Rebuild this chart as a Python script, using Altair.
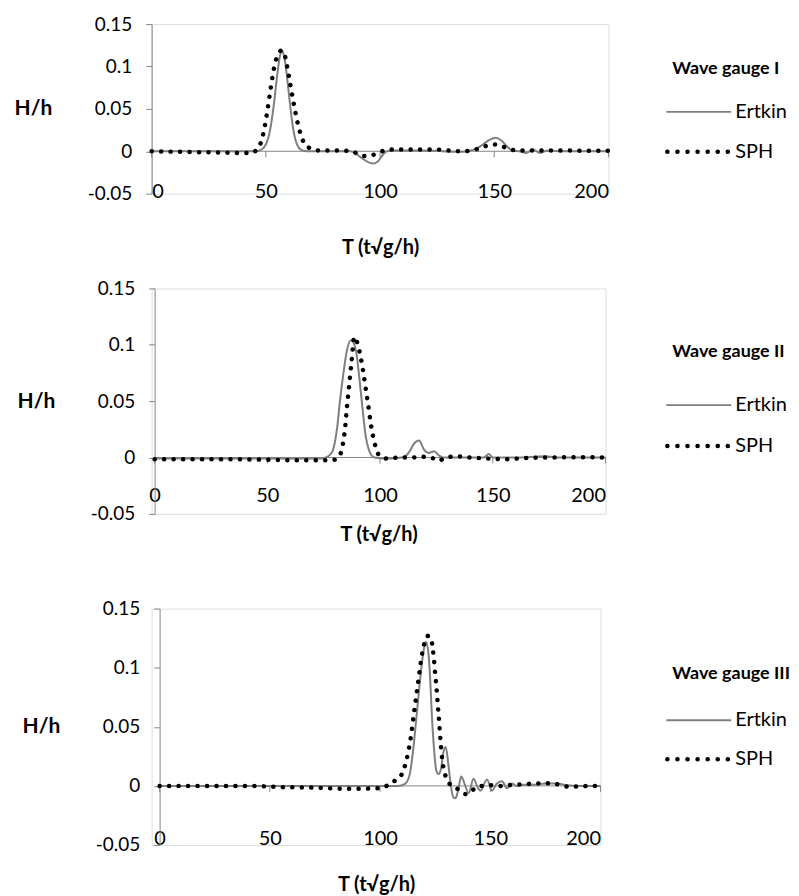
import altair as alt
import pandas as pd

SERIES = ["Ertkin", "SPH"]
X_TICKS = [0, 50, 100, 150, 200]
Y_TICKS = [-0.05, 0, 0.05, 0.1, 0.15]
X_TITLE = "T (t√g/h)"
Y_TITLE = "H/h"
GAUGES = ["Wave gauge I", "Wave gauge II", "Wave gauge III"]

# ---- Wave gauge I ----
t1_ertkin = [0, 20, 40, 45, 47, 49, 50.5, 52, 53.5, 55, 56, 57, 58, 59, 60, 61, 62, 63, 64.5, 66, 68,
             75, 87, 89, 92, 95, 97, 99, 101, 103, 106, 115, 125, 130, 137, 141, 144, 147, 150.5,
             153, 155.5, 158, 161, 164, 167, 170, 173, 180, 190, 200]
v1_ertkin = [0, 0, 0, 0, 0.0008, 0.004, 0.011, 0.027, 0.055, 0.09, 0.11, 0.119, 0.112, 0.094, 0.07,
             0.046, 0.026, 0.013, 0.004, 0.001, 0,
             0, 0, -0.002, -0.008, -0.013, -0.0145, -0.012, -0.005, 0, 0.001, 0.001, 0.0005, -0.0005,
             -0.0005, 0.002, 0.006, 0.012, 0.016,
             0.013, 0.006, 0.0005, 0, -0.002, 0.002, -0.002, 0.0005, 0, 0, 0]
t1_sph = [0, 10, 20, 30, 40, 44, 46, 47.5, 49, 50.5, 52, 53.5, 55, 57, 58.5, 60, 61.5, 63, 64.5, 66,
          68, 70, 73, 80, 88, 90, 93, 96, 99, 102, 105, 115, 125, 130, 135, 140, 143, 146, 150, 153,
          156, 160, 170, 180, 190, 200]
v1_sph = [0, -0.0005, -0.001, -0.0015, -0.002, -0.002, 0.002, 0.008, 0.022, 0.045, 0.072, 0.097,
          0.112, 0.119, 0.111, 0.09, 0.067, 0.045, 0.027, 0.014, 0.006, 0.003, 0.001, 0.001, 0,
          -0.003, -0.0055, -0.005, -0.002, 0.001, 0.002, 0.002, 0.002, 0.001, 0, 0.001, 0.003, 0.006,
          0.008, 0.0065, 0.003, 0.001, 0.001, 0.001, 0.0005, 0.0005]

# ---- Wave gauge II ----
t2_ertkin = [0, 40, 74, 76, 78, 79, 80, 81, 82.2, 83.7, 85.3, 87.1, 88.2, 89.3, 90.8, 92.3, 93.7, 95,
             96.2, 97.5, 102, 108, 111, 113, 115, 117.3, 119.5, 121.5, 124, 126, 128, 140, 146,
             148.3, 150, 160, 173, 180, 200]
v2_ertkin = [-0.001, -0.001, -0.001, 0, 0.003, 0.006, 0.014, 0.027, 0.05, 0.074, 0.095, 0.104, 0.102,
             0.095, 0.071, 0.042, 0.018, 0.007, 0.002, 0, -0.001, -0.0005, 0.001, 0.005, 0.012, 0.015,
             0.007, 0.004, 0.0055, 0.002, 0, 0, 0, 0.003, 0, 0, 0.001, 0, 0]
t2_sph = [0, 30, 50, 65, 78, 80.5, 82.4, 83.5, 84.4, 85.2, 86.2, 87.4, 88.6, 90.3, 91.5, 92.7, 93.6,
          94.5, 95.9, 96.8, 97.7, 99.2, 101, 103, 108, 115, 118, 121, 124, 126, 129, 135, 140, 148,
          155, 165, 175, 185, 200]
v2_sph = [-0.0015, -0.0015, -0.002, -0.0025, -0.0025, -0.0015, 0.003, 0.012, 0.024, 0.042, 0.062,
          0.086, 0.107, 0.099, 0.088, 0.074, 0.062, 0.05, 0.03, 0.02, 0.012, 0.003, 0, -0.001, 0, 0,
          0.001, 0, -0.001, -0.003, 0, 0.001, 0, -0.001, -0.0015, -0.0005, 0, 0.0003, 0]

# ---- Wave gauge III ----
t3_ertkin = [0, 100, 108, 110, 112, 113.6, 115, 116.5, 118, 119.5, 120.7, 121.7, 122.7, 123.5, 124.5,
             125.5, 126.5, 127.7, 128.8, 129.8, 131, 132, 133.3, 134.2, 135.5, 136.8, 138.3, 140.2,
             142.4, 144, 145.5, 148.5, 150.8, 153, 155.3, 157.6, 159.8, 162, 165, 170, 175, 180, 185,
             190, 200]
v3_ertkin = [0, 0, 0, 0.0005, 0.003, 0.011, 0.03, 0.058, 0.087, 0.111, 0.122, 0.116, 0.092, 0.06, 0.031,
             0.013, 0.01, 0.015, 0.029, 0.033, 0.018, 0.002, -0.01, -0.0105, -0.003, 0.008, 0.002,
             -0.006, 0.006, 0, -0.004, 0.0055, -0.004, 0.002, 0.004, -0.002, 0.002, 0, 0.001, 0.001,
             0.002, 0.002, 0.0005, 0, 0]
t3_sph = [0, 40, 55, 70, 85, 100, 103, 105, 108, 110.5, 112.5, 114, 115, 116, 117, 118, 119, 120, 121,
          122, 123.3, 124.3, 125, 125.7, 126.3, 126.9, 127.4, 128, 128.8, 130, 131, 133, 136, 139,
          141.5, 144, 147, 150, 155, 160, 165, 170, 175, 180, 185, 190, 195, 200]
v3_sph = [0, 0, -0.001, -0.0015, -0.0025, -0.002, 0, 0.003, 0.0056, 0.0126, 0.026, 0.042, 0.056, 0.07,
          0.084, 0.098, 0.111, 0.12, 0.126, 0.127, 0.123, 0.11, 0.095, 0.081, 0.066, 0.052, 0.039,
          0.026, 0.015, 0.007, 0.003, 0, -0.0035, -0.007, -0.0045, -0.0005, 0, 0.0006, 0, 0.001,
          0.0014, 0.002, 0.0022, 0.0015, -0.0006, -0.0006, 0, 0]

GRAY = "#7f7f7f"
AXIS = "#868686"
FONT = "Lato"
DOTS = [0.1, 9.4]


def legend_layers(gauge, ys):
    """Hand-drawn legend to the right of the plot (pixel offsets from plot origin)."""
    t_y, e_y, s_y = ys
    title = alt.Chart(pd.DataFrame({"g": [gauge]})).mark_text(
        font=FONT, fontSize=18, fontWeight="bold", color="black", align="left",
        baseline="middle").encode(text="g:N", x=alt.value(522), y=alt.value(t_y))
    e_line = alt.Chart(pd.DataFrame({"s": [SERIES[0]]})).mark_rule(
        color=GRAY, strokeWidth=2).encode(x=alt.value(516), x2=alt.value(581), y=alt.value(e_y))
    s_line = alt.Chart(pd.DataFrame({"s": [SERIES[1]]})).mark_rule(
        color="black", strokeWidth=4.5, strokeDash=[0.1, 10], strokeCap="round").encode(
        x=alt.value(517), x2=alt.value(580), y=alt.value(s_y))
    labels = []
    for s, yy in zip(SERIES, (e_y, s_y)):
        labels.append(alt.Chart(pd.DataFrame({"s": [s]})).mark_text(
            font=FONT, fontSize=20, color="black", align="left", baseline="middle").encode(
            text="s:N", x=alt.value(585), y=alt.value(yy)))
    return [title, e_line, s_line] + labels


def panel(te, ve, ts, vs, gauge, height, shift, span, lab_pad, title_y, leg_ys):
    # shift: px between the panel's left edge and t = 0; span: px from t = 0 to t = 200
    df = pd.DataFrame({
        "t": te + ts,
        "v": ve + vs,
        "s": ["Ertkin"] * len(te) + ["SPH"] * len(ts),
    })
    xmin = -200.0 * shift / span
    xs = alt.Scale(domain=[xmin, 200], nice=False, zero=False)
    ys = alt.Scale(domain=[-0.05, 0.15], nice=False)
    x = alt.X("t:Q", scale=xs, axis=alt.Axis(
        values=X_TICKS, domain=False, ticks=False, tickSize=0, grid=False,
        labelPadding=lab_pad, labelBaseline="middle", labelFont=FONT, labelFontSize=20,
        labelColor="black", title=X_TITLE, titleFont=FONT, titleFontSize=20,
        titleFontWeight="bold", titleColor="black", titleY=title_y, titleBaseline="middle"))
    y = alt.Y("v:Q", scale=ys, axis=alt.Axis(
        values=Y_TICKS, labelExpr="toString(datum.value)", grid=False, offset=-shift,
        domainColor=AXIS, tickColor=AXIS, tickSize=6, labelPadding=14,
        labelFont=FONT, labelFontSize=19, labelColor="black",
        title=Y_TITLE, titleAngle=0, titleX=-119, titleY=height / 2,
        titleAlign="center", titleBaseline="middle", titleFont=FONT, titleFontSize=21,
        titleFontWeight="bold", titleColor="black"))
    base = alt.Chart(df)
    zero = alt.Chart(pd.DataFrame({"a": [0], "b": [200], "z": [0]})).mark_rule(
        color=AXIS, strokeWidth=1).encode(
        x=alt.X("a:Q", scale=xs), x2="b:Q", y=alt.Y("z:Q", scale=ys))
    ticks = alt.Chart(pd.DataFrame({"tx": X_TICKS, "z": [0] * len(X_TICKS)})).mark_rule(
        color=AXIS, strokeWidth=1, y2Offset=6).encode(
        x=alt.X("tx:Q", scale=xs), y=alt.Y("z:Q", scale=ys), y2="z:Q")
    ert = base.transform_filter(alt.datum.s == SERIES[0]).mark_line(
        interpolate="monotone", color=GRAY, strokeWidth=2).encode(x=x, y=y)
    sph = base.transform_filter(alt.datum.s == SERIES[1]).mark_line(
        interpolate="monotone", color="black", strokeWidth=4.5, strokeDash=DOTS,
        strokeCap="round").encode(x=x, y=y)
    return alt.layer(zero, ticks, ert, sph, *legend_layers(gauge, leg_ys)).properties(
        width=shift + span, height=height)


p1 = panel(t1_ertkin, v1_ertkin, t1_sph, v1_sph, GAUGES[0], 170, 0, 458, -2, 54, (45, 88, 128))
p2 = panel(t2_ertkin, v2_ertkin, t2_sph, v2_sph, GAUGES[1], 226, 3, 452, -18, 21, (64, 117, 158))
p3 = panel(t3_ertkin, v3_ertkin, t3_sph, v3_sph, GAUGES[2], 237, 8, 442, -7, 40, (66, 112, 151))

chart = alt.vconcat(p1, p2, p3, spacing=95, bounds="flush").configure_view(
    stroke=None).configure(font=FONT).properties(
    background="white", padding={"left": 5, "top": 5, "right": 0, "bottom": 5})

chart.save("out.html", embed_options={"renderer": "svg", "actions": False})
